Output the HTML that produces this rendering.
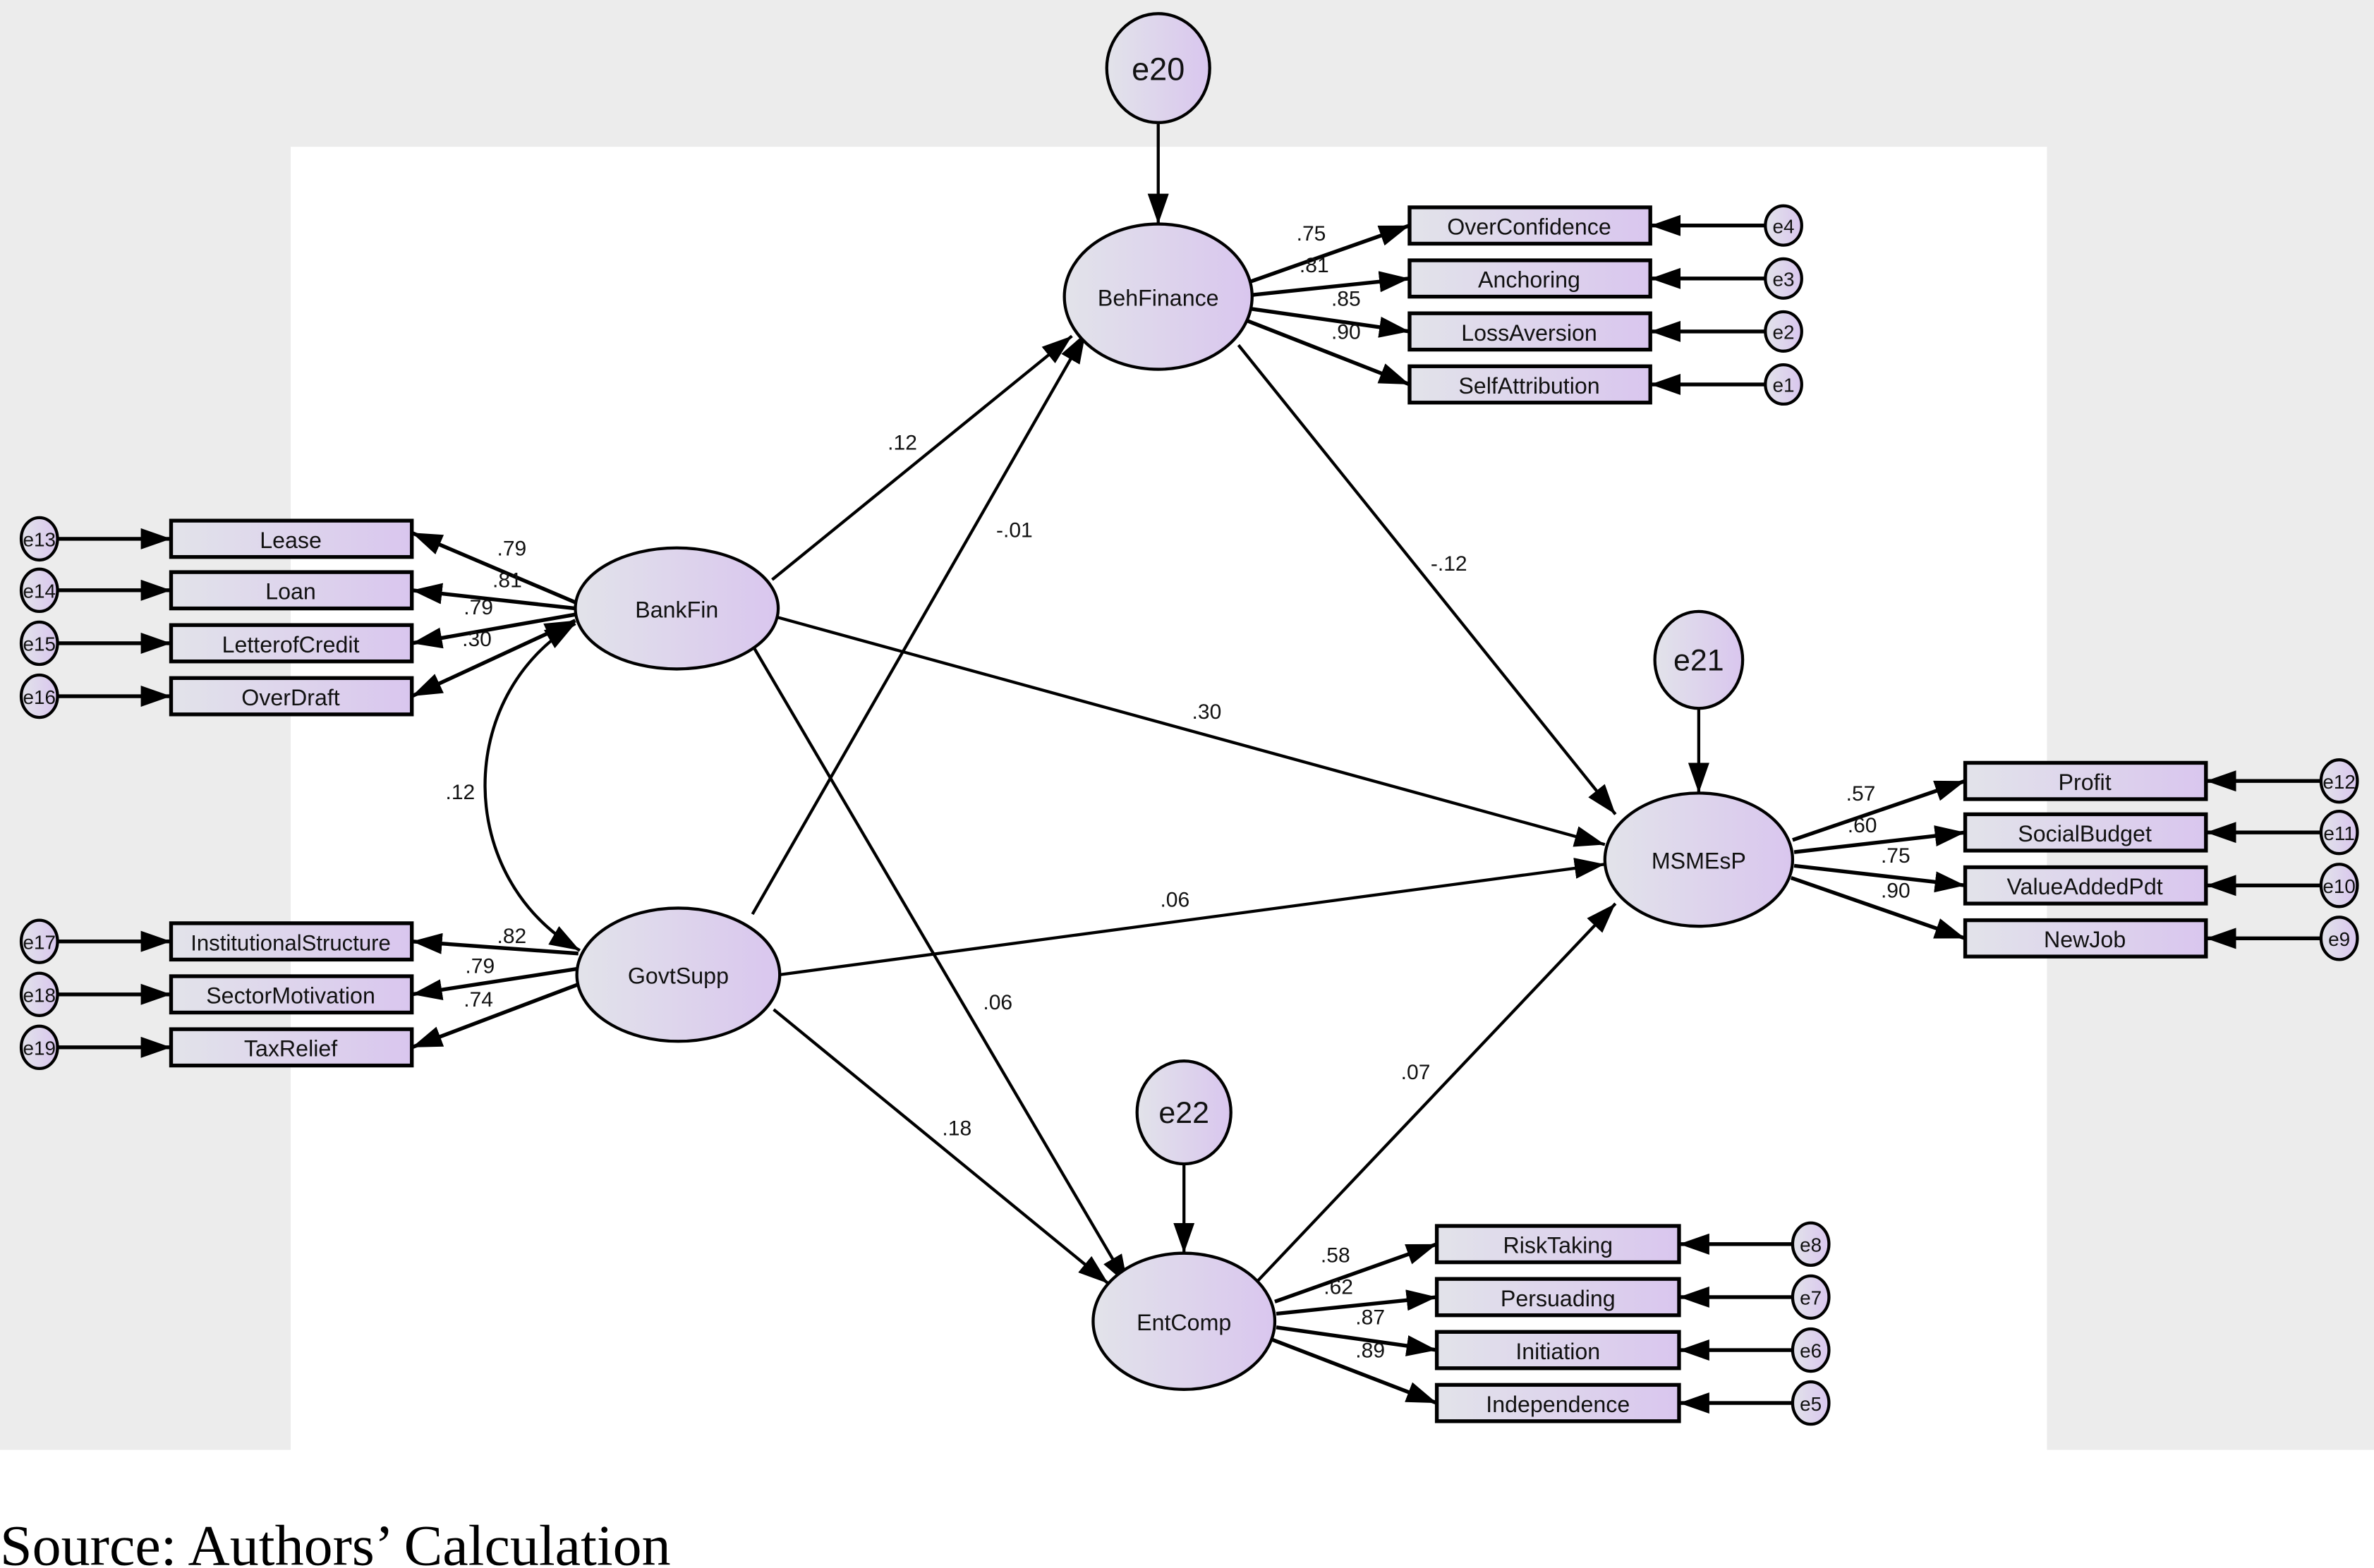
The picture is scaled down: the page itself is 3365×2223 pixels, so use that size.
<!DOCTYPE html>
<html><head><meta charset="utf-8"><style>
html,body{margin:0;padding:0;background:#fff}
svg{display:block}
</style></head><body>
<svg width="3365" height="2223" viewBox="0 0 1568 1036" preserveAspectRatio="none" xmlns="http://www.w3.org/2000/svg" font-family="Liberation Sans, sans-serif">
<defs>
<linearGradient id="g" x1="0" y1="0" x2="1" y2="0"><stop offset="0" stop-color="#e2e3ea"/><stop offset="1" stop-color="#d9c6ee"/></linearGradient>
<marker id="a" markerUnits="userSpaceOnUse" markerWidth="22" markerHeight="14" refX="20" refY="7" orient="auto"><path d="M0,0 L20,7 L0,14 Z" fill="#000"/></marker>
<marker id="s" markerUnits="userSpaceOnUse" markerWidth="22" markerHeight="14" refX="0" refY="7" orient="auto"><path d="M20,0 L0,7 L20,14 Z" fill="#000"/></marker>
</defs>
<rect x="0" y="0" width="1568" height="958" fill="#ececec"/>
<rect x="192" y="97" width="1160" height="861" fill="#fff"/>
<rect x="0" y="958" width="1568" height="78" fill="#fff"/>

<g stroke="#000" stroke-width="2" fill="none" marker-end="url(#a)">
<line x1="765" y1="82" x2="765" y2="148"/>
<line x1="1122" y1="468" x2="1122" y2="524"/>
<line x1="782" y1="769" x2="782" y2="828"/>
<line x1="818" y1="228" x2="1067" y2="538"/>
<line x1="510" y1="383" x2="708" y2="222"/>
<line x1="497" y1="604" x2="717" y2="220"/>
<line x1="514" y1="408" x2="1060" y2="558"/>
<line x1="515" y1="644" x2="1060" y2="571"/>
<line x1="498" y1="428" x2="745" y2="849"/>
<line x1="511" y1="667" x2="732" y2="848"/>
<line x1="831" y1="846" x2="1067" y2="597"/>
</g>
<g stroke="#000" stroke-width="2.5" fill="none" marker-end="url(#a)">
<line x1="826" y1="186" x2="931" y2="149"/>
<line x1="826" y1="195" x2="931" y2="184"/>
<line x1="826" y1="204" x2="931" y2="219"/>
<line x1="824" y1="212" x2="931" y2="254"/>
<line x1="380" y1="398" x2="272" y2="352"/>
<line x1="380" y1="402" x2="272" y2="390"/>
<line x1="380" y1="406" x2="272" y2="425"/>
<line x1="382" y1="630" x2="272" y2="622"/>
<line x1="382" y1="640" x2="272" y2="657"/>
<line x1="383" y1="650" x2="272" y2="692"/>
<line x1="1184" y1="555" x2="1298" y2="516"/>
<line x1="1185" y1="563" x2="1298" y2="550"/>
<line x1="1185" y1="572" x2="1298" y2="585"/>
<line x1="1183" y1="580" x2="1298" y2="620"/>
<line x1="842" y1="860" x2="949" y2="822"/>
<line x1="843" y1="868" x2="949" y2="857"/>
<line x1="843" y1="877" x2="949" y2="892"/>
<line x1="840" y1="885" x2="949" y2="927"/>
<line x1="1166" y1="149" x2="1090" y2="149"/>
<line x1="1166" y1="184" x2="1090" y2="184"/>
<line x1="1166" y1="219" x2="1090" y2="219"/>
<line x1="1166" y1="254" x2="1090" y2="254"/>
<line x1="38" y1="356" x2="113" y2="356"/>
<line x1="38" y1="390" x2="113" y2="390"/>
<line x1="38" y1="425" x2="113" y2="425"/>
<line x1="38" y1="460" x2="113" y2="460"/>
<line x1="38" y1="622" x2="113" y2="622"/>
<line x1="38" y1="657" x2="113" y2="657"/>
<line x1="38" y1="692" x2="113" y2="692"/>
<line x1="1533" y1="516" x2="1457" y2="516"/>
<line x1="1533" y1="550" x2="1457" y2="550"/>
<line x1="1533" y1="585" x2="1457" y2="585"/>
<line x1="1533" y1="620" x2="1457" y2="620"/>
<line x1="1184" y1="822" x2="1109" y2="822"/>
<line x1="1184" y1="857" x2="1109" y2="857"/>
<line x1="1184" y1="892" x2="1109" y2="892"/>
<line x1="1184" y1="927" x2="1109" y2="927"/>
</g>
<line x1="380" y1="410" x2="272" y2="460" stroke="#000" stroke-width="2.5" marker-end="url(#a)" marker-start="url(#s)"/>
<path d="M380,412 C300,460 300,580 383,628" stroke="#000" stroke-width="2" fill="none" marker-end="url(#a)" marker-start="url(#s)"/>

<g stroke="#000" stroke-width="2" fill="url(#g)">
<ellipse cx="765" cy="45" rx="34" ry="36"/>
<ellipse cx="765" cy="196" rx="62" ry="48"/>
<ellipse cx="447" cy="402" rx="67" ry="40"/>
<ellipse cx="448" cy="644" rx="67" ry="44"/>
<ellipse cx="1122" cy="568" rx="62" ry="44"/>
<ellipse cx="1122" cy="436" rx="29" ry="32"/>
<ellipse cx="782" cy="873" rx="60" ry="45"/>
<ellipse cx="782" cy="735" rx="31" ry="34"/>
<ellipse cx="1178" cy="149" rx="12" ry="13"/>
<ellipse cx="1178" cy="184" rx="12" ry="13"/>
<ellipse cx="1178" cy="219" rx="12" ry="13"/>
<ellipse cx="1178" cy="254" rx="12" ry="13"/>
<ellipse cx="26" cy="356" rx="12" ry="14"/>
<ellipse cx="26" cy="390" rx="12" ry="14"/>
<ellipse cx="26" cy="425" rx="12" ry="14"/>
<ellipse cx="26" cy="460" rx="12" ry="14"/>
<ellipse cx="26" cy="622" rx="12" ry="14"/>
<ellipse cx="26" cy="657" rx="12" ry="14"/>
<ellipse cx="26" cy="692" rx="12" ry="14"/>
<ellipse cx="1545" cy="516" rx="12" ry="14"/>
<ellipse cx="1545" cy="550" rx="12" ry="14"/>
<ellipse cx="1545" cy="585" rx="12" ry="14"/>
<ellipse cx="1545" cy="620" rx="12" ry="14"/>
<ellipse cx="1196" cy="822" rx="12" ry="14"/>
<ellipse cx="1196" cy="857" rx="12" ry="14"/>
<ellipse cx="1196" cy="892" rx="12" ry="14"/>
<ellipse cx="1196" cy="927" rx="12" ry="14"/>
</g>
<g stroke="#000" stroke-width="2.5" fill="url(#g)">
<rect x="931" y="137" width="159" height="24"/>
<rect x="931" y="172" width="159" height="24"/>
<rect x="931" y="207" width="159" height="24"/>
<rect x="931" y="242" width="159" height="24"/>
<rect x="113" y="344" width="159" height="24"/>
<rect x="113" y="378" width="159" height="24"/>
<rect x="113" y="413" width="159" height="24"/>
<rect x="113" y="448" width="159" height="24"/>
<rect x="113" y="610" width="159" height="24"/>
<rect x="113" y="645" width="159" height="24"/>
<rect x="113" y="680" width="159" height="24"/>
<rect x="1298" y="504" width="159" height="24"/>
<rect x="1298" y="538" width="159" height="24"/>
<rect x="1298" y="573" width="159" height="24"/>
<rect x="1298" y="608" width="159" height="24"/>
<rect x="949" y="810" width="160" height="24"/>
<rect x="949" y="845" width="160" height="24"/>
<rect x="949" y="880" width="160" height="24"/>
<rect x="949" y="915" width="160" height="24"/>
</g>

<g fill="#111" text-anchor="middle" font-size="15">
<text x="765" y="53" font-size="21">e20</text>
<text x="1122" y="443" font-size="20">e21</text>
<text x="782" y="742" font-size="20">e22</text>
<text x="765" y="202">BehFinance</text>
<text x="447" y="408">BankFin</text>
<text x="448" y="650">GovtSupp</text>
<text x="1122" y="574">MSMEsP</text>
<text x="782" y="879">EntComp</text>
<text x="1010" y="155">OverConfidence</text>
<text x="1010" y="190">Anchoring</text>
<text x="1010" y="225">LossAversion</text>
<text x="1010" y="260">SelfAttribution</text>
<text x="192" y="362">Lease</text>
<text x="192" y="396">Loan</text>
<text x="192" y="431">LetterofCredit</text>
<text x="192" y="466">OverDraft</text>
<text x="192" y="628" font-size="14.5">InstitutionalStructure</text>
<text x="192" y="663">SectorMotivation</text>
<text x="192" y="698">TaxRelief</text>
<text x="1377" y="522">Profit</text>
<text x="1377" y="556">SocialBudget</text>
<text x="1377" y="591">ValueAddedPdt</text>
<text x="1377" y="626">NewJob</text>
<text x="1029" y="828">RiskTaking</text>
<text x="1029" y="863">Persuading</text>
<text x="1029" y="898">Initiation</text>
<text x="1029" y="933">Independence</text>
</g>
<g fill="#111" text-anchor="middle" font-size="13">
<text x="1178" y="154">e4</text><text x="1178" y="189">e3</text><text x="1178" y="224">e2</text><text x="1178" y="259">e1</text>
<text x="26" y="361">e13</text><text x="26" y="395">e14</text><text x="26" y="430">e15</text><text x="26" y="465">e16</text>
<text x="26" y="627">e17</text><text x="26" y="662">e18</text><text x="26" y="697">e19</text>
<text x="1545" y="521">e12</text><text x="1545" y="555">e11</text><text x="1545" y="590">e10</text><text x="1545" y="625">e9</text>
<text x="1196" y="827">e8</text><text x="1196" y="862">e7</text><text x="1196" y="897">e6</text><text x="1196" y="932">e5</text>
</g>
<g fill="#111" text-anchor="middle" font-size="14">
<text x="866" y="159">.75</text><text x="868" y="180">.81</text><text x="889" y="202">.85</text><text x="889" y="224">.90</text>
<text x="596" y="297">.12</text><text x="670" y="355">-.01</text><text x="957" y="377">-.12</text>
<text x="797" y="475">.30</text><text x="776" y="599">.06</text><text x="659" y="667">.06</text>
<text x="632" y="750">.18</text><text x="935" y="713">.07</text><text x="304" y="528">.12</text>
<text x="338" y="367">.79</text><text x="335" y="388">.81</text><text x="316" y="406">.79</text><text x="315" y="427">.30</text>
<text x="338" y="623">.82</text><text x="317" y="643">.79</text><text x="316" y="665">.74</text>
<text x="1229" y="529">.57</text><text x="1230" y="550">.60</text><text x="1252" y="570">.75</text><text x="1252" y="593">.90</text>
<text x="882" y="834">.58</text><text x="884" y="855">.62</text><text x="905" y="875">.87</text><text x="905" y="897">.89</text>
</g>
<text x="0" y="1034" font-family="Liberation Serif, serif" font-size="38" fill="#000" textLength="443" lengthAdjust="spacingAndGlyphs">Source: Authors’ Calculation</text>
</svg>
</body></html>
